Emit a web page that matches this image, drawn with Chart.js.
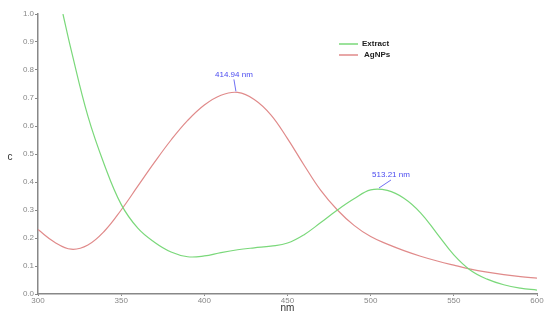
<!DOCTYPE html>
<html>
<head>
<meta charset="utf-8">
<script src="https://cdn.jsdelivr.net/npm/chart.js@4"></script>
<style>
  html, body { margin: 0; padding: 0; background: #fff; }
  #wrap { width: 550px; height: 319px; }
</style>
</head>
<body>
<div id="wrap"><canvas id="uvChart" width="550" height="319"></canvas></div>
<script>
// =============================
// Data
// =============================
const extractNm = [315, 320, 330, 340, 350, 360, 370, 380, 390, 400, 410, 420, 430, 440, 450, 460, 470, 480, 490, 500, 510, 520, 530, 540, 550, 560, 570, 580, 590, 600];
const extractAbs = [1.0, 0.87, 0.635, 0.46, 0.32, 0.235, 0.185, 0.15, 0.133, 0.136, 0.148, 0.158, 0.165, 0.171, 0.182, 0.212, 0.255, 0.30, 0.34, 0.372, 0.37, 0.342, 0.29, 0.215, 0.14, 0.085, 0.053, 0.033, 0.021, 0.014];

const agNm = [300, 310, 320, 330, 340, 350, 360, 370, 380, 390, 400, 410, 420, 430, 440, 450, 460, 470, 480, 490, 500, 510, 520, 530, 540, 550, 560, 570, 580, 590, 600];
const agAbs = [0.23, 0.185, 0.16, 0.175, 0.225, 0.30, 0.385, 0.47, 0.55, 0.62, 0.675, 0.71, 0.72, 0.695, 0.64, 0.555, 0.46, 0.37, 0.30, 0.245, 0.205, 0.178, 0.155, 0.135, 0.118, 0.103, 0.089, 0.078, 0.069, 0.062, 0.057];

const peakLabels = ["414.94 nm", "513.21 nm"];
const peakNm = [419, 505];
const peakAbs = [0.72, 0.375];

const xTicks = [300, 350, 400, 450, 500, 550, 600];

const GREEN = "#7ad87a";
const RED = "#e08a8a";
const BLUE = "#4b4bf0";

// =============================
// Extra drawing: peaks, legend, titles
// =============================
const extrasPlugin = {
  id: "extras",
  afterDatasetsDraw(chart) {
    const ctx = chart.ctx;
    const xs = chart.scales.x, ys = chart.scales.y;
    ctx.save();

    // peak markers
    ctx.font = "8px 'Liberation Sans', Arial, sans-serif";
    ctx.fillStyle = BLUE;
    ctx.strokeStyle = BLUE;
    ctx.lineWidth = 0.8;
    ctx.textAlign = "center";
    ctx.textBaseline = "bottom";
    const offsets = [[-2, 0], [12, 4]];
    peakLabels.forEach((lab, i) => {
      const px = xs.getPixelForValue(peakNm[i]);
      const py = ys.getPixelForValue(peakAbs[i]);
      const tx = px + offsets[i][0];
      const ty = py - 14 + offsets[i][1];
      ctx.beginPath();
      ctx.moveTo(px, py - 1);
      ctx.lineTo(tx, ty + 1);
      ctx.stroke();
      ctx.fillText(lab, tx, ty);
    });

    // legend
    const items = [["Extract", GREEN], ["AgNPs", RED]];
    ctx.font = "bold 8px 'Liberation Sans', Arial, sans-serif";
    ctx.textAlign = "left";
    ctx.textBaseline = "middle";
    items.forEach((it, i) => {
      const y = 44 + i * 11;
      ctx.strokeStyle = it[1];
      ctx.lineWidth = 1.5;
      ctx.beginPath();
      ctx.moveTo(339, y);
      ctx.lineTo(358, y);
      ctx.stroke();
      ctx.fillStyle = "#222";
      ctx.fillText(it[0], 362 + i * 2, y);
    });

    // axis titles
    ctx.fillStyle = "#333";
    ctx.font = "10px 'Liberation Sans', Arial, sans-serif";
    ctx.textAlign = "center";
    ctx.fillText("nm", xs.getPixelForValue(450), 308);
    ctx.fillText("c", 10, 157);
    ctx.restore();
  }
};

// =============================
// Chart
// =============================
new Chart(document.getElementById("uvChart"), {
  type: "line",
  data: {
    datasets: [
      {
        label: "Extract",
        data: extractNm.map((x, i) => ({ x: x, y: extractAbs[i] })),
        borderColor: GREEN,
        borderWidth: 1.2,
        pointRadius: 0,
        tension: 0.4
      },
      {
        label: "AgNPs",
        data: agNm.map((x, i) => ({ x: x, y: agAbs[i] })),
        borderColor: RED,
        borderWidth: 1.2,
        pointRadius: 0,
        tension: 0.4
      }
    ]
  },
  options: {
    responsive: false,
    animation: false,
    layout: { autoPadding: false, padding: { top: 14, right: 13, left: 0, bottom: 0 } },
    plugins: { legend: { display: false }, tooltip: { enabled: false } },
    scales: {
      x: {
        type: "linear",
        min: 300,
        max: 600,
        afterBuildTicks: (s) => { s.ticks = xTicks.map(v => ({ value: v })); },
        afterFit: (s) => { s.height = 25; },
        grid: { drawOnChartArea: false, tickLength: 2, color: "#888" },
        border: { color: "#888", width: 1.5 },
        ticks: { color: "#888", font: { size: 8 }, padding: 0, maxRotation: 0 }
      },
      y: {
        min: 0,
        max: 1,
        afterFit: (s) => { s.width = 38; },
        grid: { drawOnChartArea: false, tickLength: 3, color: "#888" },
        border: { color: "#888", width: 1.5 },
        ticks: { stepSize: 0.1, color: "#888", font: { size: 8 }, padding: 1,
                 callback: (v) => v.toFixed(1) }
      }
    }
  },
  plugins: [extrasPlugin]
});
</script>
</body>
</html>
